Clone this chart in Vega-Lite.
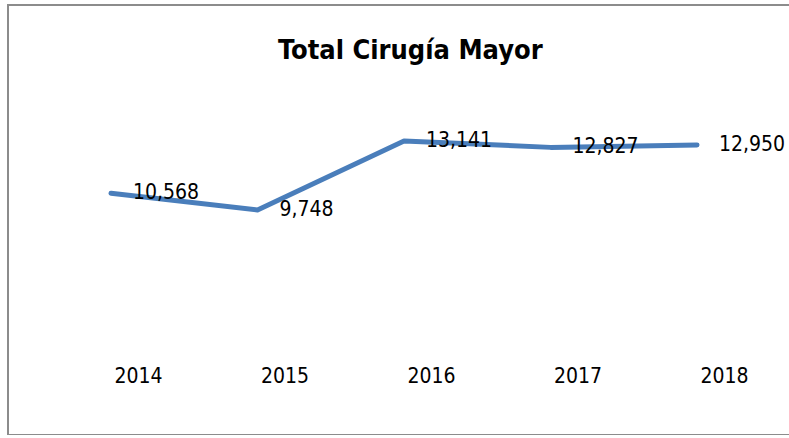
{
  "$schema": "https://vega.github.io/schema/vega-lite/v6.json",
  "width": 792,
  "height": 430,
  "autosize": {"type": "none"},
  "padding": {"left": 8, "top": 5, "right": 0, "bottom": 0},
  "background": "white",
  "title": {
    "text": "Total Cirugía Mayor",
    "font": "DejaVu Sans Condensed, sans-serif",
    "fontSize": 27,
    "fontWeight": "bold",
    "color": "#000000",
    "anchor": "start",
    "dx": 270,
    "offset": -60
  },
  "config": {
    "view": {"stroke": "#8c8c8c", "strokeWidth": 2}
  },
  "data": {
    "values": [
      {"year": "2014", "value": 10568},
      {"year": "2015", "value": 9748},
      {"year": "2016", "value": 13141},
      {"year": "2017", "value": 12827},
      {"year": "2018", "value": 12950}
    ]
  },
  "encoding": {
    "x": {
      "field": "year",
      "type": "ordinal",
      "sort": null,
      "scale": {"type": "point", "padding": 0.703},
      "axis": {
        "title": null,
        "domain": false,
        "ticks": false,
        "tickSize": 0,
        "grid": false,
        "labelAngle": 0,
        "offset": -70,
        "labelPadding": 0,
        "labelOffset": 27,
        "labelFont": "DejaVu Sans Condensed, sans-serif",
        "labelFontSize": 21,
        "labelColor": "#000000"
      }
    },
    "y": {
      "field": "value",
      "type": "quantitative",
      "scale": {"domain": [-1314, 19827], "nice": false, "zero": false},
      "axis": null
    }
  },
  "layer": [
    {
      "mark": {"type": "line", "color": "#4a7ebb", "strokeWidth": 5, "strokeCap": "round", "strokeJoin": "round"}
    },
    {
      "mark": {
        "type": "text",
        "align": "left",
        "baseline": "middle",
        "dx": 22,
        "font": "DejaVu Sans Condensed, sans-serif",
        "fontSize": 21,
        "color": "#000000"
      },
      "encoding": {
        "text": {"field": "value", "type": "quantitative", "format": ",d"}
      }
    }
  ]
}
